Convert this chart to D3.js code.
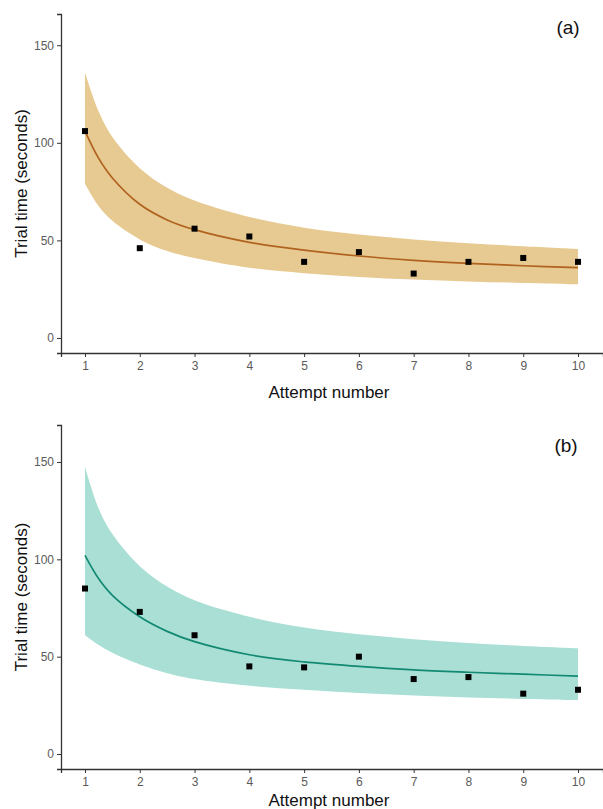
<!DOCTYPE html>
<html>
<head>
<meta charset="utf-8">
<script src="https://cdn.jsdelivr.net/npm/d3@7"></script>
<style>
  body { margin: 0; background: #fff; }
  svg { display: block; font-family: Arial, "Liberation Sans", sans-serif; }
</style>
</head>
<body>
<svg id="chart" width="603" height="809"></svg>
<script>
// observed trial times per attempt
const attempts = [1, 2, 3, 4, 5, 6, 7, 8, 9, 10];
const timeA = [106, 46, 56, 52, 39, 44, 33, 39, 41, 39];
const timeB = [85, 73, 61, 45, 44.5, 50, 38.5, 39.5, 31, 33];

// fitted curve and confidence band
const fitX = [1, 1.25, 1.5, 2, 2.5, 3, 4, 5, 6, 7, 8, 9, 10];
const fitA = [106, 92, 82, 68.5, 60.5, 55.5, 49, 45, 42, 39.8, 38.2, 37, 36];
const upperA = [136, 116, 103, 87, 77, 70.5, 62, 56.5, 53, 50.5, 48.5, 47, 45.6];
const lowerA = [79, 67.5, 60, 50.5, 44.5, 41, 36, 33.2, 31.3, 30, 29, 28.2, 27.5];
const fitB = [102, 90, 81.5, 70.5, 63, 57.7, 51, 47.3, 45, 43.2, 42, 41, 40];
const upperB = [147.5, 126, 113, 96.5, 86, 79, 70.5, 65, 61.5, 59, 57, 55.5, 54.3];
const lowerB = [61, 56, 52, 46, 41.5, 38.5, 35, 33, 31.3, 30, 29, 28.3, 27.7];

const yTicks = [0, 50, 100, 150];

const svg = d3.select("#chart");

function drawPanel(opt) {
  const g = svg.append("g");

  const x = d3.scaleLinear().domain([0.562, 10.456]).range([61, 603]);
  const y = d3.scaleLinear().domain(opt.yDomain).range([opt.bottom, opt.top]);
  const smooth = d3.curveCatmullRom.alpha(0.5);

  // confidence band
  const band = fitX.map((d, i) => ({ x: d, lo: opt.lower[i], hi: opt.upper[i] }));
  g.append("path")
    .datum(band)
    .attr("fill", opt.bandColor)
    .attr("d", d3.area()
      .x(d => x(d.x))
      .y0(d => y(d.lo))
      .y1(d => y(d.hi))
      .curve(smooth));

  // fitted line
  g.append("path")
    .datum(fitX.map((d, i) => ({ x: d, v: opt.fit[i] })))
    .attr("fill", "none")
    .attr("stroke", opt.lineColor)
    .attr("stroke-width", 1.7)
    .attr("d", d3.line()
      .x(d => x(d.x))
      .y(d => y(d.v))
      .curve(smooth));

  // points
  g.selectAll(".pt")
    .data(attempts.map((d, i) => ({ x: d, v: opt.points[i] })))
    .join("rect")
    .attr("x", d => x(d.x) - 3)
    .attr("y", d => y(d.v) - 3)
    .attr("width", 6)
    .attr("height", 6)
    .attr("fill", "#000");

  // axes
  const xAxis = g.append("g")
    .attr("transform", `translate(0,${opt.bottom})`)
    .call(d3.axisBottom(x).tickValues(attempts).tickSizeOuter(0).tickSize(4).tickPadding(4));
  const yAxis = g.append("g")
    .attr("transform", "translate(61,0)")
    .call(d3.axisLeft(y).tickValues(yTicks).tickSizeOuter(0).tickSize(4).tickPadding(3));

  [xAxis, yAxis].forEach(a => {
    a.select(".domain").attr("stroke", "#333").attr("stroke-width", 1.3);
    a.selectAll(".tick line").attr("stroke", "#333");
    a.selectAll(".tick text").attr("fill", "#5a5a5a").attr("font-size", 12);
  });

  g.append("text")
    .attr("x", 329)
    .attr("y", opt.bottom + opt.titleGap)
    .attr("text-anchor", "middle")
    .attr("font-size", 17)
    .attr("fill", "#111")
    .text("Attempt number");

  g.append("text")
    .attr("transform", `translate(27,${(opt.top + opt.bottom) / 2}) rotate(-90)`)
    .attr("text-anchor", "middle")
    .attr("font-size", 17)
    .attr("fill", "#111")
    .text("Trial time (seconds)");

  g.append("text")
    .attr("x", opt.labelX)
    .attr("y", opt.labelY)
    .attr("text-anchor", "middle")
    .attr("font-size", 19)
    .attr("fill", "#111")
    .text(opt.label);
}

drawPanel({
  top: 14, bottom: 353, yDomain: [-7.7, 166], titleGap: 45,
  points: timeA, fit: fitA, upper: upperA, lower: lowerA,
  bandColor: "#e7ca91", lineColor: "#b0621f",
  label: "(a)", labelX: 568, labelY: 34
});

drawPanel({
  top: 425, bottom: 769, yDomain: [-7.7, 169], titleGap: 37,
  points: timeB, fit: fitB, upper: upperB, lower: lowerB,
  bandColor: "#aadfd5", lineColor: "#128a73",
  label: "(b)", labelX: 566, labelY: 452
});
</script>
</body>
</html>
